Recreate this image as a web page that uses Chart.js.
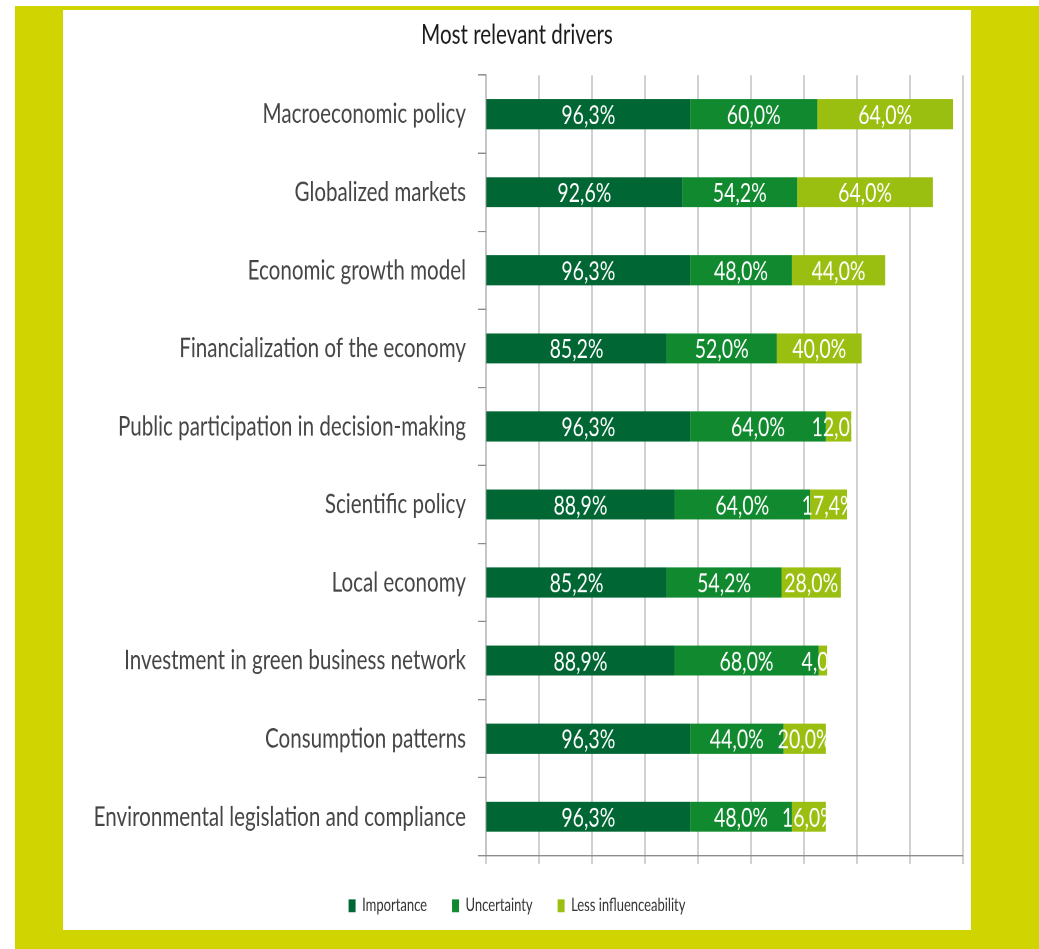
<!DOCTYPE html>
<html>
<head>
<meta charset="utf-8">
<script src="https://cdn.jsdelivr.net/npm/chart.js@4/dist/chart.umd.min.js"></script>
<style>
    html, body { margin: 0; padding: 0; background: #fff; }
    body { width: 1039px; height: 949px; position: relative; overflow: hidden; }
    #frame { position: absolute; left: 15px; top: 6px; right: 0; bottom: 0; background: #d0d400; }
    #panel { position: absolute; left: 63px; top: 10px; width: 908px; height: 920px; background: #fff; }
    /* the source picture is stretched vertically, so the chart is drawn short and scaled */
    #stretch { position: absolute; left: 0; top: 0; width: 908px; height: 681.5px;
               transform: scaleY(1.35); transform-origin: 0 0; }
</style>
</head>
<body>
<div id="frame"></div>
<div id="panel">
    <div id="stretch"><canvas id="drivers"></canvas></div>
</div>
<script>
const categories = [
    'Macroeconomic policy',
    'Globalized markets',
    'Economic growth model',
    'Financialization of the economy',
    'Public participation in decision-making',
    'Scientific policy',
    'Local economy',
    'Investment in green business network',
    'Consumption patterns',
    'Environmental legislation and compliance',
];
const importance = [96.3, 92.6, 96.3, 85.2, 96.3, 88.9, 85.2, 88.9, 96.3, 96.3];
const uncertainty = [60.0, 54.2, 48.0, 52.0, 64.0, 64.0, 54.2, 68.0, 44.0, 48.0];
const lessInfluenceability = [64.0, 64.0, 44.0, 40.0, 12.0, 17.4, 28.0, 4.0, 20.0, 16.0];
const seriesNames = ['Importance', 'Uncertainty', 'Less influenceability'];

const FONT = 'Lato, "Open Sans", sans-serif';

function pct(v) {
    return v.toFixed(1).replace('.', ',') + '%';
}

// white value labels centred on each segment, cut off at the segment end
const segmentLabels = {
    id: 'segmentLabels',
    afterDatasetsDraw(chart) {
        const ctx = chart.ctx;
        const area = chart.chartArea;
        ctx.save();
        ctx.font = '19.5px ' + FONT;
        ctx.fillStyle = '#ffffff';
        ctx.textAlign = 'center';
        ctx.textBaseline = 'middle';
        chart.data.datasets.forEach((ds, di) => {
            chart.getDatasetMeta(di).data.forEach((bar, i) => {
                const left = Math.min(bar.x, bar.base);
                const right = Math.max(bar.x, bar.base);
                ctx.save();
                ctx.beginPath();
                ctx.rect(area.left, bar.y - bar.height / 2, right - area.left, bar.height);
                ctx.clip();
                ctx.fillText(pct(ds.data[i]), (left + right) / 2, bar.y + 1);
                ctx.restore();
            });
        });
        ctx.restore();
    },
};

new Chart(document.getElementById('drivers'), {
    type: 'bar',
    data: {
        labels: categories,
        datasets: [
            { label: seriesNames[0], data: importance, backgroundColor: '#006633' },
            { label: seriesNames[1], data: uncertainty, backgroundColor: '#118a2f' },
            { label: seriesNames[2], data: lessInfluenceability, backgroundColor: '#9bbf10' },
        ],
    },
    plugins: [segmentLabels],
    options: {
        indexAxis: 'y',
        responsive: true,
        maintainAspectRatio: false,
        animation: false,
        devicePixelRatio: 2,
        barPercentage: 0.385,
        categoryPercentage: 1,
        layout: { padding: { left: 8, right: 8, top: 0, bottom: 2 } },
        plugins: {
            tooltip: { enabled: false },
            title: {
                display: true,
                text: 'Most relevant drivers',
                color: '#1a1a1a',
                font: { family: FONT, size: 20.6, weight: 'normal' },
                padding: { top: 6, bottom: 17.5 },
            },
            legend: {
                position: 'bottom',
                labels: {
                    boxWidth: 7,
                    boxHeight: 9.5,
                    padding: 25,
                    color: '#333',
                    font: { family: FONT, size: 13 },
                },
            },
        },
        scales: {
            x: {
                stacked: true,
                min: 0,
                max: 225,
                ticks: { display: false, stepSize: 25 },
                grid: { color: '#a3a3a3', tickLength: 6 },
                border: { color: '#8c8c8c' },
                afterFit(scale) { scale.height = 5.5; },
            },
            y: {
                stacked: true,
                ticks: {
                    color: '#454545',
                    padding: 12,
                    font: { family: FONT, size: 20.6 },
                },
                grid: { drawOnChartArea: false, offset: true, tickLength: 8, color: '#8c8c8c' },
                border: { color: '#8c8c8c' },
                afterFit(scale) { scale.width = 415; },
            },
        },
    },
});
</script>
</body>
</html>
